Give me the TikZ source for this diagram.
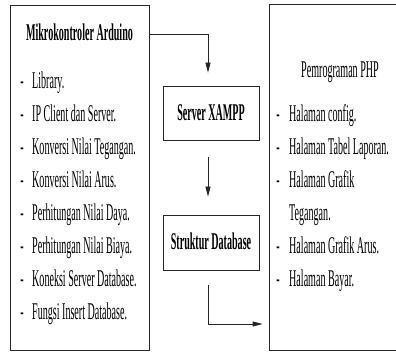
\documentclass[tikz,border=0pt]{standalone}
\usepackage{fontspec}
\setmainfont{Liberation Serif}[FakeStretch=0.42]
\usetikzlibrary{arrows.meta,calc}
\begin{document}
\begin{tikzpicture}[x=1pt,y=-1pt,
  box/.style={draw=black!85, line width=0.8pt, inner sep=0pt},
  lbl/.style={inner sep=0pt, font=\fontsize{24}{28}\selectfont},
  item/.style={lbl, anchor=base west},
  dsh/.style={lbl, anchor=base},
  ttl/.style={inner sep=0pt, anchor=base, font=\fontsize{24}{28}\selectfont\bfseries},
  conn/.style={line width=0.8pt, draw=black!85},
  arr/.style={conn, -{Triangle[length=10pt,width=5pt]}}]
\useasboundingbox (0,0) rectangle (396,352);
% boxes
\node[box, minimum width=139pt, minimum height=345pt] (ard) at (79.5,177.5) {};
\node[box, minimum width=131pt, minimum height=346pt] (php) at (334.5,177) {};
\node[box, minimum width=96pt, minimum height=54pt] (srv) at (211,113) {};
\node[box, minimum width=96pt, minimum height=55pt] (db) at (211,242.5) {};
% titles
\node[ttl] (tard) at (79.5,41) {Mikrokontroler Arduino};
\node[lbl, anchor=base] (tphp) at (340,78) {Pemrograman PHP};
\node[ttl] (tsrv) at (211,121) {Server XAMPP};
\node[ttl] (tdb) at (211,250) {Struktur Database};
% left list
\foreach \t [count=\i from 0] in {Library.,IP Client dan Server.,Konversi Nilai Tegangan.,Konversi Nilai Arus.,Perhitungan Nilai Daya.,Perhitungan Nilai Biaya.,Koneksi Server Database.,Fungsi Insert Database.}{
  \node[dsh] (ld\i) at (22,89+33*\i) {-};
  \node[item] (li\i) at (32,89+33*\i) {\t};
}
% right list
\node[dsh] (rd0) at (278,122) {-};
\node[item] (ri0) at (289,122) {Halaman config.};
\node[dsh] (rd1) at (278,155) {-};
\node[item] (ri1) at (289,155) {Halaman Tabel Laporan.};
\node[dsh] (rd2) at (278,188) {-};
\node[item] (ri2) at (289,188) {Halaman Grafik};
\node[item] (ri3) at (289,221) {Tegangan.};
\node[dsh] (rd4) at (278,254) {-};
\node[item] (ri4) at (289,254) {Halaman Grafik Arus.};
\node[dsh] (rd5) at (278,287) {-};
\node[item] (ri5) at (289,287) {Halaman Bayar.};
% connectors
\coordinate (c1) at ($(srv.north)+(-3,-13)$);
\draw[arr] ($(ard.north east)+(0,30)$) -| (c1);
\coordinate (c2) at ($(srv.south)+(-3,17)$);
\coordinate (c3) at ($(db.north)+(-3,-18)$);
\draw[arr] (c2) -- (c3);
\coordinate (c4) at ($(db.south)+(-3,15)$);
\coordinate (c5) at ($(php.west)+(-6,147)$);
\draw[arr] (c4) |- (c5);
\end{tikzpicture}
\end{document}
